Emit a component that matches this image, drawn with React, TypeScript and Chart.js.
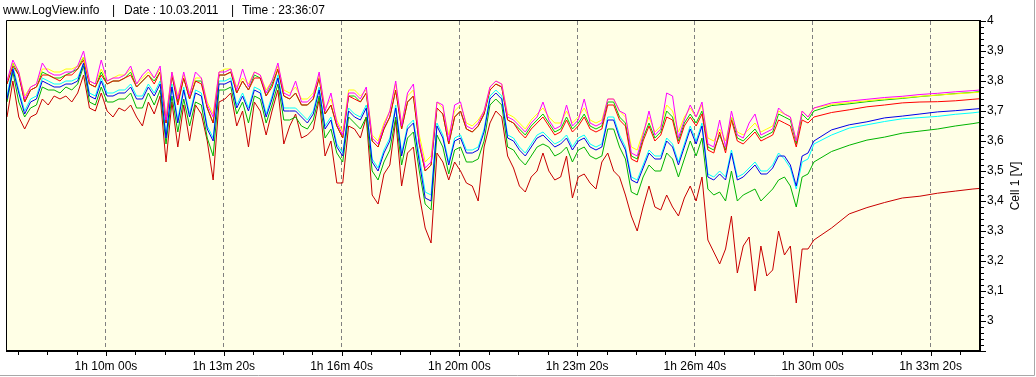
import React, { useEffect, useRef } from "react";
import { Chart, registerables } from "chart.js";

Chart.register(...registerables);

// ---- Data (seconds since log start, cell voltages in V) ----
const SAMPLE_START = 4032; // s
const SAMPLE_STEP = 10; // s
const NOISY_COUNT = 138;
const RECOVERY_TIMES = [5432, 5462, 5492, 5522, 5552, 5582, 5612, 5642, 5672, 5684];

const X_MIN = 4032;
const X_MAX = 5684;
const Y_MIN = 2.9;
const Y_MAX = 4.0;

const magentaCell = [
  3.80, 3.87, 3.83, 3.74, 3.78, 3.79, 3.86, 3.83, 3.82, 3.82, 3.83, 3.83, 3.85, 3.90, 3.80, 3.79, 3.87, 3.80, 3.81, 3.81, 3.82,
  3.85, 3.79, 3.82, 3.84, 3.81, 3.85, 3.67, 3.83, 3.74, 3.83, 3.75, 3.83, 3.81, 3.72, 3.68, 3.83, 3.83, 3.84, 3.77, 3.84, 3.78, 3.83, 3.82,
  3.76, 3.80, 3.86, 3.76, 3.75, 3.80, 3.73, 3.73, 3.75, 3.83, 3.70, 3.76, 3.66, 3.62, 3.76, 3.76, 3.74, 3.78, 3.61, 3.59, 3.65, 3.70,
  3.80, 3.65, 3.76, 3.79, 3.60, 3.51, 3.53, 3.73, 3.72, 3.60, 3.72, 3.73, 3.65, 3.64, 3.66, 3.70, 3.78, 3.80, 3.79, 3.68, 3.67,
  3.65, 3.63, 3.66, 3.68, 3.73, 3.67, 3.64, 3.65, 3.72, 3.65, 3.67, 3.74, 3.66, 3.65, 3.66, 3.74, 3.74, 3.70, 3.69, 3.56, 3.55, 3.62,
  3.70, 3.62, 3.64, 3.76, 3.75, 3.61, 3.67, 3.72, 3.68, 3.73, 3.59, 3.58, 3.67, 3.58, 3.70, 3.62, 3.61, 3.66, 3.69, 3.62, 3.63, 3.64,
  3.71, 3.69, 3.68, 3.60, 3.70, 3.68, 3.71,
  3.727, 3.733, 3.739, 3.745, 3.749, 3.755, 3.759, 3.764, 3.768, 3.770,
];

const yellowCell = [
  3.80, 3.86, 3.83, 3.75, 3.78, 3.79, 3.84, 3.84, 3.83, 3.83, 3.84, 3.84, 3.85, 3.88, 3.80, 3.79, 3.84, 3.80, 3.81, 3.82, 3.82,
  3.84, 3.79, 3.81, 3.83, 3.81, 3.84, 3.68, 3.83, 3.75, 3.82, 3.76, 3.81, 3.81, 3.73, 3.69, 3.83, 3.84, 3.84, 3.78, 3.81, 3.79, 3.83, 3.82,
  3.77, 3.80, 3.85, 3.77, 3.76, 3.78, 3.74, 3.74, 3.76, 3.82, 3.71, 3.74, 3.67, 3.63, 3.77, 3.77, 3.75, 3.77, 3.62, 3.60, 3.66, 3.70,
  3.79, 3.66, 3.75, 3.77, 3.62, 3.53, 3.55, 3.73, 3.71, 3.62, 3.70, 3.72, 3.66, 3.65, 3.67, 3.70, 3.78, 3.80, 3.79, 3.69, 3.68,
  3.66, 3.64, 3.67, 3.69, 3.71, 3.68, 3.66, 3.66, 3.70, 3.66, 3.68, 3.71, 3.67, 3.66, 3.67, 3.74, 3.74, 3.70, 3.68, 3.58, 3.57, 3.63,
  3.68, 3.63, 3.65, 3.72, 3.70, 3.63, 3.68, 3.71, 3.68, 3.72, 3.61, 3.60, 3.64, 3.60, 3.68, 3.63, 3.62, 3.64, 3.66, 3.63, 3.64, 3.65,
  3.70, 3.69, 3.68, 3.60, 3.70, 3.68, 3.71,
  3.722, 3.728, 3.734, 3.740, 3.744, 3.749, 3.753, 3.757, 3.761, 3.763,
];

const redCell = [
  3.79, 3.85, 3.82, 3.73, 3.77, 3.78, 3.82, 3.82, 3.81, 3.80, 3.82, 3.82, 3.84, 3.87, 3.79, 3.78, 3.82, 3.79, 3.80, 3.80, 3.81,
  3.82, 3.78, 3.80, 3.82, 3.79, 3.83, 3.66, 3.82, 3.72, 3.81, 3.74, 3.80, 3.79, 3.71, 3.66, 3.82, 3.82, 3.83, 3.76, 3.80, 3.77, 3.81, 3.81,
  3.75, 3.78, 3.84, 3.75, 3.74, 3.76, 3.72, 3.72, 3.74, 3.81, 3.69, 3.72, 3.65, 3.61, 3.75, 3.74, 3.73, 3.76, 3.60, 3.58, 3.64, 3.68,
  3.77, 3.64, 3.73, 3.75, 3.59, 3.50, 3.52, 3.71, 3.69, 3.59, 3.68, 3.70, 3.64, 3.63, 3.65, 3.69, 3.77, 3.79, 3.78, 3.67, 3.66,
  3.63, 3.61, 3.64, 3.66, 3.68, 3.65, 3.62, 3.63, 3.67, 3.63, 3.65, 3.68, 3.64, 3.63, 3.64, 3.72, 3.72, 3.67, 3.65, 3.54, 3.53, 3.60,
  3.65, 3.60, 3.62, 3.68, 3.67, 3.59, 3.65, 3.68, 3.65, 3.69, 3.57, 3.56, 3.63, 3.56, 3.67, 3.60, 3.59, 3.61, 3.63, 3.60, 3.61, 3.62,
  3.67, 3.66, 3.65, 3.58, 3.67, 3.66, 3.68,
  3.695, 3.704, 3.714, 3.720, 3.727, 3.730, 3.731, 3.734, 3.739, 3.741,
];

const limeCell = [
  3.79, 3.86, 3.82, 3.73, 3.77, 3.78, 3.83, 3.82, 3.81, 3.81, 3.82, 3.83, 3.84, 3.88, 3.79, 3.78, 3.83, 3.79, 3.80, 3.80, 3.81,
  3.83, 3.78, 3.80, 3.82, 3.80, 3.83, 3.66, 3.82, 3.73, 3.81, 3.74, 3.80, 3.80, 3.71, 3.66, 3.82, 3.82, 3.83, 3.76, 3.80, 3.77, 3.82, 3.81,
  3.75, 3.79, 3.84, 3.75, 3.74, 3.76, 3.72, 3.72, 3.74, 3.81, 3.69, 3.72, 3.65, 3.61, 3.75, 3.75, 3.73, 3.76, 3.60, 3.58, 3.64, 3.68,
  3.77, 3.64, 3.73, 3.75, 3.59, 3.50, 3.52, 3.71, 3.69, 3.59, 3.68, 3.70, 3.64, 3.63, 3.65, 3.69, 3.77, 3.79, 3.78, 3.67, 3.66,
  3.64, 3.62, 3.65, 3.67, 3.69, 3.66, 3.63, 3.64, 3.68, 3.64, 3.66, 3.69, 3.65, 3.64, 3.65, 3.73, 3.73, 3.68, 3.66, 3.55, 3.54, 3.61,
  3.66, 3.61, 3.63, 3.70, 3.68, 3.60, 3.66, 3.69, 3.66, 3.70, 3.58, 3.57, 3.62, 3.57, 3.68, 3.61, 3.60, 3.62, 3.64, 3.61, 3.62, 3.63,
  3.69, 3.68, 3.67, 3.59, 3.69, 3.67, 3.70,
  3.718, 3.724, 3.731, 3.737, 3.742, 3.748, 3.753, 3.758, 3.762, 3.765,
];

const blueCell = [
  3.74, 3.84, 3.76, 3.69, 3.73, 3.74, 3.80, 3.79, 3.78, 3.78, 3.79, 3.79, 3.80, 3.86, 3.75, 3.74, 3.80, 3.75, 3.75, 3.76, 3.76,
  3.78, 3.74, 3.74, 3.78, 3.75, 3.79, 3.61, 3.78, 3.66, 3.77, 3.68, 3.76, 3.75, 3.64, 3.60, 3.79, 3.79, 3.80, 3.71, 3.75, 3.70, 3.77, 3.76,
  3.68, 3.74, 3.81, 3.70, 3.70, 3.70, 3.68, 3.66, 3.69, 3.77, 3.64, 3.67, 3.58, 3.55, 3.70, 3.68, 3.67, 3.71, 3.53, 3.50, 3.56, 3.60,
  3.71, 3.55, 3.64, 3.66, 3.53, 3.41, 3.40, 3.65, 3.61, 3.52, 3.60, 3.61, 3.56, 3.56, 3.57, 3.63, 3.74, 3.76, 3.74, 3.61, 3.60,
  3.57, 3.55, 3.58, 3.61, 3.62, 3.60, 3.58, 3.59, 3.61, 3.57, 3.60, 3.61, 3.58, 3.57, 3.58, 3.67, 3.67, 3.61, 3.57, 3.47, 3.46, 3.51,
  3.56, 3.54, 3.54, 3.60, 3.58, 3.52, 3.58, 3.64, 3.59, 3.65, 3.48, 3.47, 3.49, 3.47, 3.56, 3.47, 3.48, 3.50, 3.52, 3.49, 3.49, 3.51,
  3.55, 3.55, 3.52, 3.45, 3.55, 3.56, 3.60,
  3.637, 3.654, 3.664, 3.677, 3.683, 3.690, 3.697, 3.701, 3.706, 3.708,
];

const cyanCell = [
  3.75, 3.85, 3.77, 3.70, 3.74, 3.75, 3.81, 3.80, 3.79, 3.79, 3.80, 3.80, 3.81, 3.86, 3.76, 3.75, 3.81, 3.76, 3.76, 3.77, 3.77,
  3.79, 3.75, 3.75, 3.79, 3.76, 3.80, 3.62, 3.79, 3.67, 3.78, 3.69, 3.77, 3.76, 3.65, 3.61, 3.80, 3.80, 3.81, 3.72, 3.76, 3.71, 3.78, 3.77,
  3.69, 3.75, 3.82, 3.71, 3.71, 3.71, 3.69, 3.67, 3.70, 3.78, 3.65, 3.68, 3.59, 3.56, 3.71, 3.69, 3.68, 3.72, 3.54, 3.51, 3.57, 3.61,
  3.72, 3.56, 3.65, 3.67, 3.55, 3.43, 3.42, 3.66, 3.62, 3.53, 3.61, 3.62, 3.57, 3.57, 3.58, 3.64, 3.75, 3.77, 3.75, 3.62, 3.61,
  3.58, 3.56, 3.59, 3.62, 3.63, 3.61, 3.59, 3.60, 3.62, 3.58, 3.61, 3.62, 3.59, 3.58, 3.59, 3.68, 3.68, 3.62, 3.58, 3.48, 3.47, 3.52,
  3.57, 3.55, 3.55, 3.61, 3.59, 3.53, 3.59, 3.65, 3.60, 3.66, 3.49, 3.48, 3.50, 3.48, 3.57, 3.48, 3.49, 3.51, 3.53, 3.50, 3.50, 3.52,
  3.56, 3.54, 3.51, 3.44, 3.53, 3.54, 3.59,
  3.620, 3.643, 3.654, 3.665, 3.674, 3.678, 3.682, 3.689, 3.694, 3.697,
];

const greenCell = [
  3.73, 3.83, 3.73, 3.68, 3.71, 3.72, 3.78, 3.77, 3.77, 3.76, 3.78, 3.77, 3.79, 3.85, 3.73, 3.72, 3.78, 3.73, 3.73, 3.74, 3.74,
  3.76, 3.71, 3.71, 3.76, 3.72, 3.77, 3.59, 3.75, 3.63, 3.74, 3.65, 3.73, 3.72, 3.61, 3.55, 3.77, 3.77, 3.78, 3.69, 3.73, 3.66, 3.75, 3.74,
  3.66, 3.72, 3.79, 3.67, 3.67, 3.68, 3.65, 3.64, 3.67, 3.75, 3.61, 3.64, 3.56, 3.53, 3.68, 3.66, 3.64, 3.68, 3.50, 3.47, 3.53, 3.57,
  3.68, 3.52, 3.61, 3.63, 3.50, 3.39, 3.37, 3.62, 3.58, 3.49, 3.57, 3.58, 3.53, 3.53, 3.54, 3.60, 3.72, 3.74, 3.72, 3.58, 3.57,
  3.54, 3.52, 3.55, 3.58, 3.59, 3.58, 3.55, 3.56, 3.58, 3.53, 3.57, 3.58, 3.55, 3.54, 3.55, 3.64, 3.64, 3.58, 3.54, 3.43, 3.42, 3.48,
  3.52, 3.50, 3.50, 3.56, 3.54, 3.48, 3.54, 3.60, 3.55, 3.61, 3.44, 3.42, 3.43, 3.40, 3.50, 3.40, 3.42, 3.43, 3.44, 3.40, 3.42, 3.44,
  3.47, 3.48, 3.45, 3.38, 3.48, 3.49, 3.53,
  3.565, 3.586, 3.603, 3.613, 3.626, 3.633, 3.640, 3.650, 3.658, 3.662,
];

const darkRedCell = [
  3.68, 3.80, 3.68, 3.64, 3.68, 3.69, 3.74, 3.72, 3.75, 3.74, 3.75, 3.73, 3.76, 3.82, 3.71, 3.70, 3.76, 3.70, 3.68, 3.71, 3.70,
  3.72, 3.68, 3.65, 3.73, 3.69, 3.75, 3.53, 3.73, 3.58, 3.72, 3.60, 3.72, 3.69, 3.60, 3.47, 3.73, 3.74, 3.76, 3.65, 3.70, 3.58, 3.73, 3.70,
  3.62, 3.70, 3.77, 3.59, 3.65, 3.69, 3.61, 3.62, 3.64, 3.74, 3.55, 3.60, 3.46, 3.46, 3.65, 3.64, 3.61, 3.68, 3.42, 3.39, 3.49, 3.52,
  3.67, 3.45, 3.56, 3.58, 3.42, 3.31, 3.26, 3.56, 3.53, 3.47, 3.53, 3.50, 3.46, 3.45, 3.40, 3.58, 3.66, 3.70, 3.68, 3.55, 3.51,
  3.45, 3.43, 3.48, 3.50, 3.56, 3.50, 3.47, 3.48, 3.55, 3.41, 3.48, 3.49, 3.46, 3.44, 3.53, 3.56, 3.50, 3.48, 3.42, 3.35, 3.30, 3.38,
  3.45, 3.38, 3.37, 3.42, 3.38, 3.35, 3.41, 3.45, 3.40, 3.48, 3.27, 3.23, 3.19, 3.24, 3.35, 3.16, 3.25, 3.28, 3.10, 3.25, 3.15, 3.17,
  3.30, 3.22, 3.25, 3.06, 3.24, 3.24, 3.27,
  3.310, 3.357, 3.378, 3.395, 3.410, 3.416, 3.426, 3.433, 3.440, 3.442,
];

const SERIES = [
  { label: "Cell magenta", color: "#FF00FF", values: magentaCell },
  { label: "Cell yellow", color: "#FFFF00", values: yellowCell },
  { label: "Cell red", color: "#FF0000", values: redCell },
  { label: "Cell lime", color: "#00C800", values: limeCell },
  { label: "Cell blue", color: "#0000E8", values: blueCell },
  { label: "Cell cyan", color: "#00FFFF", values: cyanCell },
  { label: "Cell green", color: "#00B400", values: greenCell },
  { label: "Cell 1", color: "#C80000", values: darkRedCell },
];

const TITLE_PARTS = [
  { text: "www.LogView.info", x: 3 },
  { text: "|", x: 112 },
  { text: "Date : 10.03.2011", x: 124 },
  { text: "|", x: 231 },
  { text: "Time : 23:36:07", x: 242 },
];
const Y_TITLE = "Cell 1 [V]";
const Y_LABEL_MIN = 3.0;

const FONT = '"Liberation Sans", Arial, sans-serif';

function buildTimes(): number[] {
  const t: number[] = [];
  for (let i = 0; i < NOISY_COUNT; i++) t.push(SAMPLE_START + i * SAMPLE_STEP);
  return t.concat(RECOVERY_TIMES);
}

function fmtTime(s: number): string {
  const h = Math.floor(s / 3600);
  const m = Math.floor((s % 3600) / 60);
  const sec = Math.round(s % 60);
  return `${h}h ${String(m).padStart(2, "0")}m ${String(sec).padStart(2, "0")}s`;
}

function xTickValues(): number[] {
  const v: number[] = [];
  for (let t = 4050; t <= 5650; t += 50) v.push(t);
  return v;
}

function yTickValues(): number[] {
  const v: number[] = [];
  for (let k = 145; k <= 200; k++) v.push(k / 50);
  return v;
}

const isMajorY = (v: number) => Math.abs(v * 10 - Math.round(v * 10)) < 1e-6;

const framePlugin = {
  id: "logviewFrame",
  beforeDraw(chart: any) {
    const { ctx, chartArea: a, width, height } = chart;
    ctx.save();
    ctx.fillStyle = "#FFFFFF";
    ctx.fillRect(0, 0, width, height);
    ctx.fillStyle = "#FFFFE6";
    ctx.fillRect(a.left, a.top, a.right - a.left, a.bottom - a.top);
    ctx.restore();
  },
  afterDatasetsDraw(chart: any) {
    const { ctx, chartArea: a, scales } = chart;
    ctx.save();
    ctx.strokeStyle = "#000000";
    // left + top thin
    ctx.lineWidth = 1;
    ctx.beginPath();
    ctx.moveTo(a.left - 0.5, a.bottom);
    ctx.lineTo(a.left - 0.5, a.top - 0.5);
    ctx.lineTo(a.right, a.top - 0.5);
    ctx.stroke();
    // right + bottom thick
    ctx.lineWidth = 2;
    ctx.beginPath();
    ctx.moveTo(a.left - 1, a.bottom);
    ctx.lineTo(a.right, a.bottom);
    ctx.lineTo(a.right, a.top - 1);
    ctx.stroke();

    // tick marks
    ctx.lineWidth = 1;
    const xs = scales.x;
    ctx.beginPath();
    for (const t of xs.ticks) {
      const px = Math.round(xs.getPixelForValue(t.value)) + 0.5;
      const len = t.value % 200 === 0 ? 5 : 4;
      ctx.moveTo(px, a.bottom);
      ctx.lineTo(px, a.bottom + len);
    }
    const ys = scales.y;
    for (const t of ys.ticks) {
      const py = Math.round(ys.getPixelForValue(t.value)) + 0.5;
      const len = isMajorY(t.value) ? 6 : 4;
      ctx.moveTo(a.right, py);
      ctx.lineTo(a.right + len, py);
    }
    ctx.stroke();

    // window border
    ctx.strokeStyle = "#A8A8A8";
    ctx.beginPath();
    ctx.moveTo(0, 375.5);
    ctx.lineTo(1034.5, 375.5);
    ctx.lineTo(1034.5, 0);
    ctx.stroke();

    // header texts
    ctx.fillStyle = "#000000";
    ctx.font = `12px ${FONT}`;
    ctx.textBaseline = "alphabetic";
    ctx.textAlign = "left";
    for (const p of TITLE_PARTS) ctx.fillText(p.text, p.x, 14);

    // y axis title, reading bottom to top
    ctx.translate(1016, 186);
    ctx.rotate(-Math.PI / 2);
    ctx.textAlign = "center";
    ctx.textBaseline = "middle";
    ctx.fillText(Y_TITLE, 0, 0);
    ctx.restore();
  },
};

export default function App() {
  const ref = useRef<HTMLCanvasElement | null>(null);

  useEffect(() => {
    if (!ref.current) return;
    const times = buildTimes();
    const chart = new Chart(ref.current, {
      type: "line",
      data: {
        datasets: SERIES.map((s) => ({
          label: s.label,
          data: s.values.map((v, i) => ({ x: times[i], y: v })),
          borderColor: s.color,
          backgroundColor: s.color,
          borderWidth: 1,
          pointRadius: 0,
          tension: 0,
          fill: false,
        })),
      },
      options: {
        animation: false,
        responsive: false,
        devicePixelRatio: 1,
        events: [],
        layout: { padding: { left: 7, top: 21, right: 0, bottom: 0 } },
        plugins: {
          legend: { display: false },
          tooltip: { enabled: false },
          title: { display: false },
        },
        scales: {
          x: {
            type: "linear",
            position: "bottom",
            min: X_MIN,
            max: X_MAX,
            afterBuildTicks: (axis: any) => {
              axis.ticks = xTickValues().map((v) => ({ value: v }));
            },
            afterFit: (axis: any) => {
              axis.height = 26;
            },
            grid: {
              drawTicks: false,
              color: (c: any) =>
                c.tick && c.tick.value % 200 === 0 ? "#808080" : "rgba(0,0,0,0)",
              lineWidth: 1,
            },
            border: { display: false, dash: [4, 3] },
            ticks: {
              autoSkip: false,
              maxRotation: 0,
              minRotation: 0,
              padding: 8,
              color: "#000000",
              font: { family: FONT, size: 12 },
              callback: (value: any) => (Number(value) % 200 === 0 ? fmtTime(Number(value)) : ""),
            },
          },
          y: {
            type: "linear",
            position: "right",
            min: Y_MIN,
            max: Y_MAX,
            afterBuildTicks: (axis: any) => {
              axis.ticks = yTickValues().map((v) => ({ value: v }));
            },
            afterFit: (axis: any) => {
              axis.width = 56;
            },
            grid: { display: false, drawTicks: false },
            border: { display: false },
            ticks: {
              autoSkip: false,
              padding: 7,
              color: "#000000",
              font: { family: FONT, size: 12 },
              callback: (value: any) => {
                const v = Number(value);
                if (!isMajorY(v) || v < Y_LABEL_MIN - 1e-6) return "";
                const r = Math.round(v * 10) / 10;
                return Number.isInteger(r) ? String(r) : r.toFixed(1).replace(".", ",");
              },
            },
          },
        },
      },
      plugins: [framePlugin],
    });
    return () => chart.destroy();
  }, []);

  return (
    <div style={{ position: "absolute", left: 0, top: 0, width: 1036, height: 377, background: "#FFFFFF" }}>
      <canvas ref={ref} width={1036} height={377} style={{ display: "block" }} />
    </div>
  );
}
